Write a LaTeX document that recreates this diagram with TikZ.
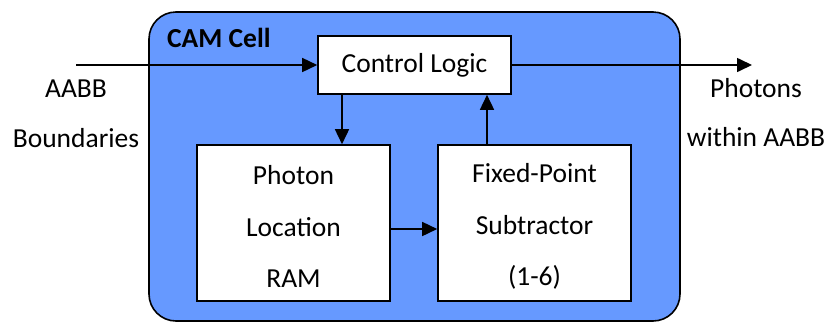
\documentclass[tikz,border=0pt]{standalone}
\usepackage{fontspec}
\setmainfont{Carlito}
\usetikzlibrary{arrows.meta}
\definecolor{cellblue}{HTML}{6699FF}
% extra room above the first line of a block's text
\newcommand{\blocklead}{\rule{0pt}{26pt}}
\tikzset{
  blk/.style={draw=black, line width=1.6pt, fill=white, inner sep=0pt,
    align=center, font=\fontsize{27.5}{51.5}\selectfont},
  lbl/.style={inner sep=0pt, anchor=base, font=\fontsize{27.5}{33}\selectfont},
  arr/.style={line width=1.6pt, -{Triangle[length=15pt,width=14pt]}},
}
\begin{document}
\begin{tikzpicture}[x=1pt,y=-1pt]
  \useasboundingbox (0,0) rectangle (829,322);
  % CAM cell outline
  \draw[fill=cellblue, line width=1.6pt, rounded corners=27pt] (149,12) rectangle (680,321);
  \node[lbl, anchor=base west, font=\bfseries\fontsize{27.5}{33}\selectfont] (title) at (167,47) {CAM Cell};
  % blocks
  \node[blk, minimum width=193pt, minimum height=58pt] (ctrl) at (414.5,65) {Control Logic};
  \node[blk, minimum width=193pt, minimum height=156pt] (ram) at (293.5,223) {\blocklead Photon\\Location\\RAM};
  \node[blk, minimum width=193pt, minimum height=156pt] (sub) at (534.5,223) {\blocklead Fixed-Point\\Subtractor\\(1-6)};
  % outside labels
  \node[lbl] (aabb) at (76,97) {AABB};
  \node[lbl] (bnd) at (76,147) {Boundaries};
  \node[lbl] (ph) at (756,97) {Photons};
  \node[lbl] (win) at (756,146) {within AABB};
  % connectors
  \coordinate (in) at (76,65);
  \coordinate (out) at (752,65);
  \coordinate (dn) at (342,0);
  \coordinate (up) at (487,0);
  \coordinate (mid) at (0,229);
  \draw[arr] (in) -- (ctrl.west);
  \draw[arr] (ctrl.east) -- (out);
  \draw[arr] (ctrl.south -| dn) -- (ram.north -| dn);
  \draw[arr] (sub.north -| up) -- (ctrl.south -| up);
  \draw[arr] (ram.east |- mid) -- (sub.west |- mid);
\end{tikzpicture}
\end{document}
